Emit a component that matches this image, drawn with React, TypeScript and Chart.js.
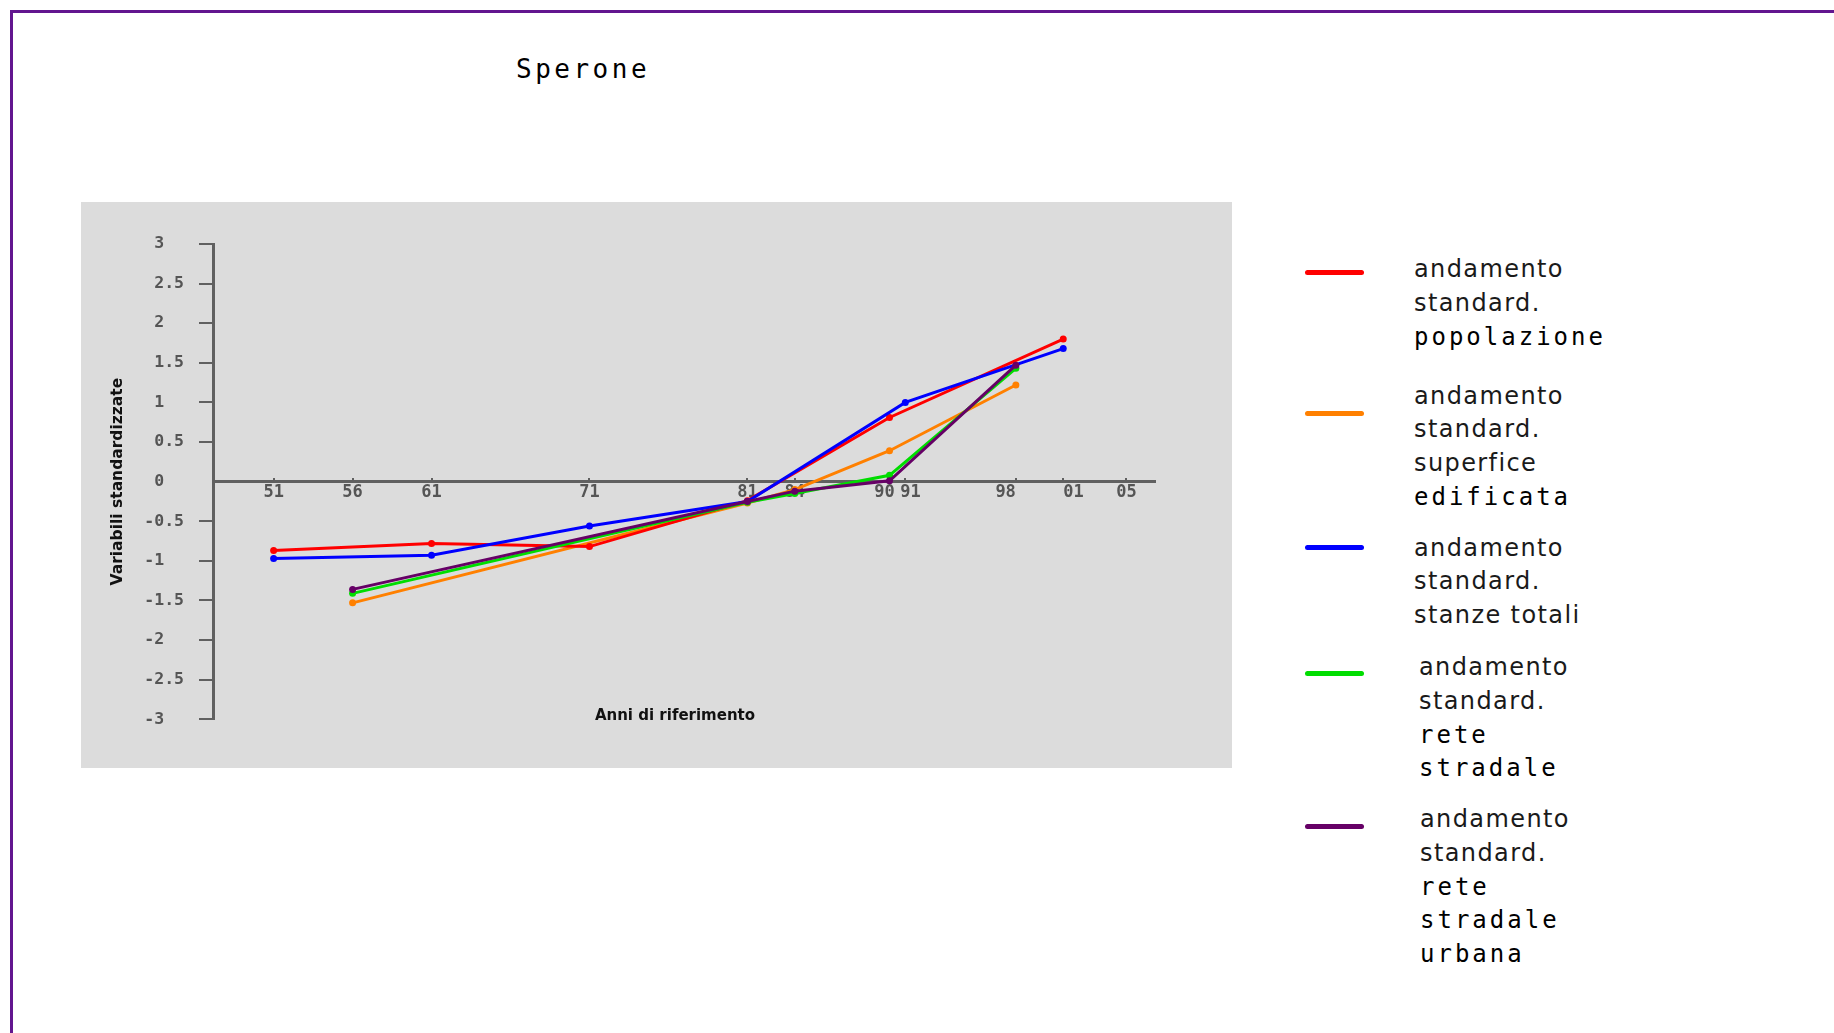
import React, { useEffect, useRef } from "react";
import { Chart, registerables } from "chart.js";

Chart.register(...registerables);

const TITLE = "Sperone";
const X_AXIS_TITLE = "Anni di riferimento";
const Y_AXIS_TITLE = "Variabili standardizzate";

const X_TICKS = [1951, 1956, 1961, 1971, 1981, 1984, 1990, 1991, 1998, 2001, 2005];
// short labels; surrounding spaces nudge crowded labels apart as in the original
const X_TICK_LABELS = ["51", "56", "61", "71", "81", "84", "90 ", " 91", "98  ", "  01", "05"];
const X_MIN = 1947.16;
const X_MAX = 2006.78;
const Y_MIN = -3;
const Y_MAX = 3;
const Y_STEP = 0.5;

const POP_YEARS = [1951, 1961, 1971, 1981, 1990, 2001];
const POP_VALUES = [-0.87, -0.78, -0.82, -0.24, 0.81, 1.8];

const SUP_YEARS = [1956, 1981, 1984, 1990, 1998];
const SUP_VALUES = [-1.53, -0.27, -0.1, 0.39, 1.22];

const STANZE_YEARS = [1951, 1961, 1971, 1981, 1991, 2001];
const STANZE_VALUES = [-0.97, -0.93, -0.56, -0.25, 1.0, 1.68];

const RETE_YEARS = [1956, 1981, 1984, 1990, 1998];
const RETE_VALUES = [-1.41, -0.26, -0.15, 0.08, 1.43];

const URB_YEARS = [1956, 1981, 1984, 1990, 1998];
const URB_VALUES = [-1.36, -0.25, -0.12, 0.01, 1.47];

const SERIES_COLORS = ["#ff0000", "#ff8000", "#0000ff", "#00dd00", "#660066"];
const SERIES_ORDER = [3, 4, 2, 1, 0];

const LEGEND_SANS = [
  ["andamento", "standard."],
  ["andamento", "standard.", "superfice"],
  ["andamento", "standard.", "stanze totali"],
  ["andamento", "standard."],
  ["andamento", "standard."],
];
const LEGEND_PIXEL = [
  ["popolazione"],
  ["edificata"],
  [],
  ["rete", "stradale"],
  ["rete", "stradale", "urbana"],
];

const LEGEND_TEXT_TOP = [253, 379.5, 531.6, 651, 803];
const LEGEND_TEXT_LEFT = [1414, 1414, 1414, 1419, 1420];
const LEGEND_SWATCH_Y = [272.5, 413, 547.4, 673.7, 826];

const AXIS_COLOR = "#606060";
const PIXEL_FONT = "'DejaVu Sans Mono', monospace";
const SANS_FONT = "'DejaVu Sans', Verdana, sans-serif";

function pts(xs: number[], ys: number[]) {
  return xs.map((x, i) => ({ x, y: ys[i] }));
}

function yLabel(v: number) {
  const s = (v < 0 ? "-" : " ") + String(Math.abs(v));
  return s.padEnd(4, " ");
}

function ChartPanel() {
  const ref = useRef<HTMLCanvasElement | null>(null);
  useEffect(() => {
    if (!ref.current) return;
    const seriesData = [
      pts(POP_YEARS, POP_VALUES),
      pts(SUP_YEARS, SUP_VALUES),
      pts(STANZE_YEARS, STANZE_VALUES),
      pts(RETE_YEARS, RETE_VALUES),
      pts(URB_YEARS, URB_VALUES),
    ];
    const names = [
      "andamento standard. popolazione",
      "andamento standard. superfice edificata",
      "andamento standard. stanze totali",
      "andamento standard. rete stradale",
      "andamento standard. rete stradale urbana",
    ];
    const chart = new Chart(ref.current, {
      type: "line",
      data: {
        datasets: seriesData.map((d, i) => ({
          label: names[i],
          data: d,
          borderColor: SERIES_COLORS[i],
          backgroundColor: SERIES_COLORS[i],
          pointBackgroundColor: SERIES_COLORS[i],
          pointBorderColor: SERIES_COLORS[i],
          pointBorderWidth: 0,
          pointRadius: 3.5,
          borderWidth: 3,
          tension: 0,
          fill: false,
          order: SERIES_ORDER[i],
        })),
      },
      options: {
        animation: false,
        responsive: false,
        maintainAspectRatio: false,
        layout: { padding: { left: 20, top: 42, right: 77.5, bottom: 48.7 } },
        plugins: {
          legend: { display: false },
          title: { display: false },
          tooltip: { enabled: false },
        },
        scales: {
          x: {
            type: "linear",
            min: X_MIN,
            max: X_MAX,
            position: { y: 0 },
            afterBuildTicks: (scale: any) => {
              scale.ticks = X_TICKS.map((v) => ({ value: v }));
            },
            ticks: {
              autoSkip: false,
              maxRotation: 0,
              padding: 6,
              color: "#555555",
              font: { family: PIXEL_FONT, size: 17, weight: "bold" },
              callback: (v: any) => {
                const idx = X_TICKS.indexOf(Number(v));
                return idx >= 0 ? X_TICK_LABELS[idx] : "";
              },
            },
            grid: {
              drawOnChartArea: false,
              drawTicks: true,
              tickLength: -5,
              lineWidth: 2,
              color: AXIS_COLOR,
            },
            border: { display: true, color: AXIS_COLOR, width: 3 },
          },
          y: {
            type: "linear",
            min: Y_MIN,
            max: Y_MAX,
            position: "left",
            afterFit: (scale: any) => {
              scale.width = 112;
            },
            ticks: {
              stepSize: Y_STEP,
              autoSkip: false,
              padding: 15,
              color: "#555555",
              font: { family: PIXEL_FONT, size: 16.5, weight: "bold" },
              callback: (v: any) => yLabel(Number(v)),
            },
            grid: {
              drawOnChartArea: false,
              drawTicks: true,
              tickLength: 14,
              lineWidth: 2,
              color: (ctx: any) => (ctx.tick && ctx.tick.value === 0 ? "rgba(0,0,0,0)" : AXIS_COLOR),
            },
            border: { display: true, color: AXIS_COLOR, width: 3 },
            title: {
              display: true,
              text: Y_AXIS_TITLE,
              color: "#111111",
              font: { family: SANS_FONT, size: 15.5, weight: "bold" },
              padding: { top: 8, bottom: 0 },
            },
          },
        },
      } as any,
    });
    return () => chart.destroy();
  }, []);
  return (
    <canvas
      ref={ref}
      width={1151}
      height={566}
      style={{ display: "block", width: 1151, height: 566 }}
    />
  );
}

export default function App() {
  return (
    <div
      style={{
        position: "absolute",
        left: 0,
        top: 0,
        width: 1834,
        height: 1033,
        overflow: "hidden",
        background: "#ffffff",
      }}
    >
      <div
        style={{
          position: "absolute",
          left: 10,
          top: 10,
          width: 1900,
          height: 1100,
          borderLeft: "3px solid #62168f",
          borderTop: "3px solid #62168f",
        }}
      />
      <div
        style={{
          position: "absolute",
          left: 516,
          top: 52,
          height: 34,
          lineHeight: "34px",
          fontFamily: PIXEL_FONT,
          fontSize: 26,
          letterSpacing: 3.5,
          color: "#000",
          whiteSpace: "nowrap",
        }}
      >
        {TITLE}
      </div>
      <div
        style={{
          position: "absolute",
          left: 81,
          top: 202,
          width: 1151,
          height: 566,
          background: "#dcdcdc",
        }}
      >
        <ChartPanel />
        <div
          style={{
            position: "absolute",
            left: 594 - 150,
            width: 300,
            top: 512.7 - 10,
            height: 20,
            lineHeight: "20px",
            textAlign: "center",
            fontFamily: SANS_FONT,
            fontWeight: "bold",
            fontSize: 15,
            color: "#111",
            whiteSpace: "nowrap",
          }}
        >
          {X_AXIS_TITLE}
        </div>
      </div>
      {SERIES_COLORS.map((c, i) => (
        <React.Fragment key={i}>
          <div
            style={{
              position: "absolute",
              left: 1305,
              top: LEGEND_SWATCH_Y[i] - 2.5,
              width: 59,
              height: 5,
              borderRadius: 2.5,
              background: c,
            }}
          />
          <div
            style={{
              position: "absolute",
              left: LEGEND_TEXT_LEFT[i],
              top: LEGEND_TEXT_TOP[i],
              whiteSpace: "nowrap",
            }}
          >
            {LEGEND_SANS[i].map((t, j) => (
              <div
                key={"s" + j}
                style={{
                  height: 33.8,
                  lineHeight: "33.8px",
                  fontFamily: SANS_FONT,
                  fontSize: 24,
                  letterSpacing: 1.4,
                  color: "#1a1a1a",
                }}
              >
                {t}
              </div>
            ))}
            {LEGEND_PIXEL[i].map((t, j) => (
              <div
                key={"p" + j}
                style={{
                  height: 33.8,
                  lineHeight: "33.8px",
                  fontFamily: PIXEL_FONT,
                  fontSize: 24,
                  letterSpacing: 3,
                  color: "#000",
                }}
              >
                {t}
              </div>
            ))}
          </div>
        </React.Fragment>
      ))}
    </div>
  );
}
